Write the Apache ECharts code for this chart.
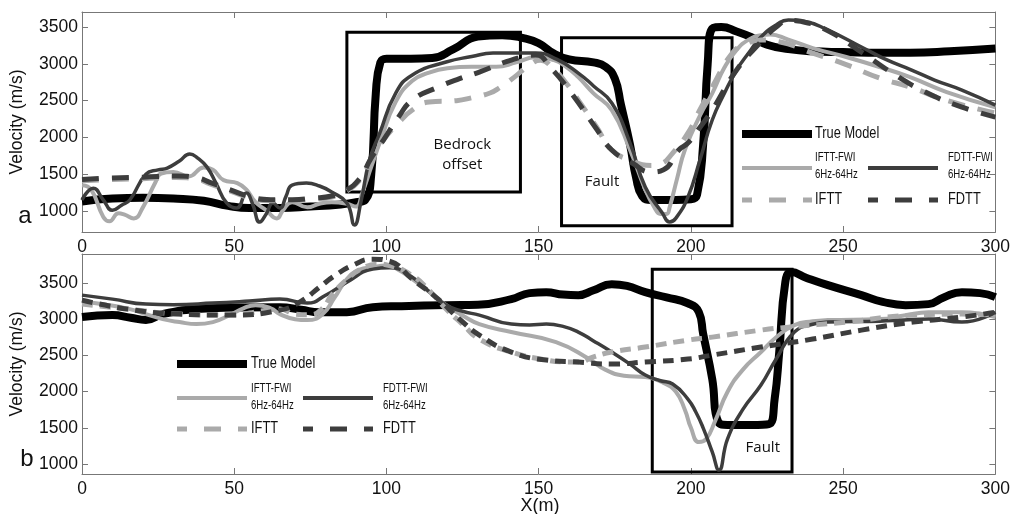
<!DOCTYPE html>
<html><head><meta charset="utf-8">
<script src="https://cdn.jsdelivr.net/npm/echarts@6/dist/echarts.min.js"></script>
<style>html,body{margin:0;padding:0;background:#fff}#c{width:1013px;height:514px}</style>
</head><body><div id="c"></div>
<script>
// ---------- DATA ----------
const xTicks = [0, 50, 100, 150, 200, 250, 300];
const yTicks = [1000, 1500, 2000, 2500, 3000, 3500];
const seriesNames = ['True Model', 'IFTT-FWI 6Hz-64Hz', 'FDTT-FWI 6Hz-64Hz', 'IFTT', 'FDTT'];

// Panel a
const aTrueX = [0,10,20,30,40,48,55,65,75,85,90,93,95,96.5,98,100,108,115,122,130,138,145,150,155,160,168,172,175,177,180,182,184,187,195,200,202,204,205.5,207,210,215,220,225,232,240,250,262,272,285,300];
const aTrueV = [1130,1170,1180,1170,1140,1070,1040,1040,1060,1090,1120,1150,1500,2600,3020,3070,3070,3080,3200,3370,3390,3350,3280,3140,3060,3020,2960,2800,2450,1900,1450,1200,1150,1150,1160,1220,1900,3000,3480,3500,3440,3360,3260,3200,3170,3160,3150,3150,3170,3210];

const aIfwiX = [0,3,7,9,12,14,17,20,24,26,30,35,40,43,46.5,51,54,57,60.5,64,66,69,74,78,82,87,90,92,95,98,103,108.5,114,120,128,136,142.6,149,155,159,163,168,174,180,185,188,190,192,193,195.5,198,203,207,211,215,219,223,226,232,240,251,262,272,284,300];
const aIfwiV = [1350,1290,920,860,970,950,900,1050,1380,1510,1530,1470,1590,1560,1420,1380,1290,1120,1010,900,1010,1120,1050,1100,1120,1100,1060,1240,1600,1950,2480,2770,2880,2940,2960,2960,3020,3090,3050,2960,2820,2600,2370,1830,1290,1050,960,960,1050,1450,1830,2300,2600,2950,3190,3330,3390,3400,3330,3215,3093,2957,2820,2617,2410];

const aFfwiX = [0,3.7,7,10,13,15.7,21,25,28,32,35.4,38,41,44,47.5,50.8,54,56,58.4,60.5,62.7,65,67,69,73.7,78,82,87,89.5,91.5,94.4,97.7,103,108.5,119.6,128,135,149,156,163,168,174,180,185,190.6,193,195,199,203,207,211,215,219,223,228,232,237,245,256,264,272.5,280,289,300];
const aFfwiV = [1150,1310,1150,1010,1080,1150,1500,1560,1584,1680,1775,1720,1600,1380,1110,1040,1245,1100,850,960,1110,1040,1200,1353,1380,1340,1258,1108,810,1100,1690,2050,2600,2850,3025,3100,3147,3147,3060,2875,2700,2468,1924,1326,973,850,900,1190,1700,2237,2600,2916,3150,3365,3530,3596,3580,3460,3230,3060,2916,2780,2644,2440];

const aIttX = [0,10,20,31,38,42,48.5,56,62,69,76,82,86,91,95,99,104,108.5,114,123,128,134,137,142,147,150.6,154.5,159,163,169,174,180,187,190,194,199,203,207,213.6,218,223,229,240,251,262,272,283.6,300];
const aIttV = [1410,1430,1440,1455,1430,1370,1275,1170,1140,1140,1160,1190,1250,1410,1700,1965,2200,2373,2481,2500,2540,2604,2672,2820,2985,3050,2950,2740,2508,2142,1829,1693,1620,1640,1788,2060,2380,2685,3147,3270,3324,3300,3147,2990,2807,2685,2508,2332];

const aFttX = [0,10,20,31,38,42,48.5,56,62,69,76,82,86,91,95,99,104,108.5,117,124,130.5,141,149,154,160.7,169,174,180.7,187,191,196,199,203,207,215,223,228,232,237,245,255,265.6,277,289,300];
const aFttV = [1430,1450,1460,1475,1450,1390,1290,1185,1155,1155,1175,1205,1265,1430,1720,1965,2280,2508,2685,2800,2889,3052,3120,2943,2604,2115,1829,1652,1530,1560,1829,1924,2140,2373,2916,3300,3500,3590,3570,3450,3188,2889,2617,2413,2277];

// Panel b
const bTrueX = [0,10,16,21,26.5,37.6,50,65,72,78,87,95.5,105,119.6,130,141,147,152.5,158,163,168,174,179,185,192,199,202.6,204,207,209,212,220,225.6,227.5,229,231,233,238,245,256,263,270.5,278,283,289,295,300];
const bTrueV = [3030,3056,3020,2990,3070,3139,3160,3166,3130,3097,3097,3166,3180,3194,3200,3277,3360,3373,3340,3332,3400,3484,3460,3373,3300,3220,3097,2800,2173,1580,1540,1540,1552,1900,2546,3511,3650,3570,3470,3332,3240,3194,3208,3300,3373,3360,3304];

const bIfwiX = [0,8,15.7,21,26.5,32,37.6,43,48.5,53,57,62,65,70,74,79,83,87,91,95.5,100,104,108.5,114,119.6,125,130.5,141,155.7,166.6,172,178,185,191,195,198,200,202.6,205,208,212,217,223,228,234,240,245,262,270,278,289,300];
const bIfwiV = [3236,3200,3139,3070,3001,2960,2932,2960,3056,3150,3194,3150,3070,3000,2987,3070,3300,3553,3680,3719,3740,3680,3553,3380,3194,3050,2932,2822,2684,2449,2300,2220,2200,2120,2000,1750,1500,1304,1345,1600,1994,2300,2546,2750,2918,2970,2987,3001,3050,3097,3097,3029];

const bFfwiX = [0,10,21,30,43,55,65,74,80,87,95.5,101,108.5,114,119.6,125,130.5,141,147,152.5,158,163,168,174,180,185,190,194,199,201.6,204,207,209.2,212,217,223,228,234,240,245,262,270,278,289,300];
const bFfwiV = [3332,3277,3208,3200,3222,3250,3277,3222,3330,3511,3691,3710,3580,3380,3194,3110,3056,2932,2920,2932,2900,2822,2700,2546,2380,2228,2150,2104,1897,1718,1500,1166,917,1345,1750,2090,2450,2822,2930,2960,2973,2990,3001,2960,3097];

const bIttX = [0,15,32,48.5,60,65,70,75,79,82,87,92,97,101,108.5,114,119.6,125,130.5,141,152.5,158,163,168,174,185,199,207,223,232,251,273,289,300];
const bIttV = [3208,3139,3070,3056,3120,3139,3070,3060,3150,3332,3550,3700,3760,3740,3600,3400,3139,2930,2725,2546,2435,2410,2408,2480,2546,2615,2711,2752,2849,2890,2960,3056,3070,3056];

const bFttX = [0,15,32,48.5,65,72,78,83,89,95.5,101,108.5,117,124,130.5,141,152.5,163,174,185,199,207,223,240,256,273,289,300];
const bFttV = [3263,3139,3070,3056,3125,3250,3442,3600,3746,3829,3800,3553,3277,3000,2780,2546,2435,2408,2380,2408,2449,2504,2615,2725,2849,2960,3029,3097];

// Annotation boxes and texts (data coordinates)
const aBoxes = [[87,1260,144,3430],[157.5,800,213.5,3355]];
const bBoxes = [[187.3,890,233.2,3690]];
const aNotes = [['Bedrock\noffset',124.9,1761],['Fault',170.8,1394]];
const bNotes = [['Fault',223.6,1221]];

// ---------- CHART ----------
const zip = (xs, vs) => xs.map((x, i) => [x, vs[i]]);
const chart = echarts.init(document.getElementById('c'), null, {renderer: 'canvas'});
const AX = '#777';
const SANS = "'Liberation Sans', Arial, Helvetica, sans-serif";
const LBL = {fontFamily: SANS, fontSize: 17.5, color: '#111'};

function xAx(g, pos, labels) {
  return {type: 'value', gridIndex: g, position: pos, min: 0, max: 300, interval: 50,
    axisLine: {show: true, onZero: false, lineStyle: {color: AX, width: 1}},
    axisTick: {show: true, inside: true, length: 6, lineStyle: {color: AX}},
    axisLabel: Object.assign({show: labels, margin: 6, formatter: v => String(v)}, LBL),
    splitLine: {show: false}};
}
function yAx(g, pos, labels, mn, mx) {
  return {type: 'value', gridIndex: g, position: pos, min: mn, max: mx,
    axisLine: {show: true, onZero: false, lineStyle: {color: AX, width: 1}},
    axisTick: {show: true, inside: true, length: 6, lineStyle: {color: AX}, customValues: yTicks},
    axisLabel: Object.assign({show: labels, margin: 4, customValues: yTicks, formatter: v => String(v)}, LBL),
    splitLine: {show: false},
    name: labels ? 'Velocity (m/s)' : '', nameLocation: 'middle', nameGap: 56,
    nameTextStyle: {fontFamily: SANS, fontSize: 17.5, color: '#111'}};
}
function line(name, data, xi, yi, color, width, dash, z, boxes) {
  const s = {name, type: 'line', xAxisIndex: xi, yAxisIndex: yi, data, showSymbol: false,
    smooth: 0.5, z,
    lineStyle: {color, width, type: dash || 'solid', cap: 'butt', join: 'round'}, animation: false};
  if (boxes) {
    s.markArea = {silent: true, itemStyle: {color: 'rgba(0,0,0,0)', borderColor: '#000', borderWidth: 3},
      label: {show: false},
      data: boxes.map(b => [{coord: [b[0], b[1]]}, {coord: [b[2], b[3]]}])};
  }
  return s;
}
const LIGHT = '#aaaaaa', DARK = '#3d3d3d';
const dashA = [17, 13], dashB = [11, 7];

const option = {
  animation: false,
  backgroundColor: '#fff',
  grid: [
    {left: 82, right: 16, top: 12, height: 220, show: false},
    {left: 82, right: 16, top: 254, height: 220, show: false}
  ],
  xAxis: [xAx(0, 'bottom', true), xAx(0, 'top', false), xAx(1, 'bottom', true), xAx(1, 'top', false)],
  yAxis: [yAx(0, 'left', true, 715, 3705), yAx(0, 'right', false, 715, 3705),
          yAx(1, 'left', true, 862, 3900), yAx(1, 'right', false, 862, 3900)],
  series: [
    line(seriesNames[0], zip(aTrueX, aTrueV), 0, 0, '#000', 8, null, 2, aBoxes),
    line(seriesNames[1], zip(aIfwiX, aIfwiV), 0, 0, LIGHT, 4, null, 3),
    line(seriesNames[2], zip(aFfwiX, aFfwiV), 0, 0, DARK, 3.5, null, 4),
    line(seriesNames[3], zip(aIttX, aIttV), 0, 0, LIGHT, 5, dashA, 5),
    line(seriesNames[4], zip(aFttX, aFttV), 0, 0, DARK, 5, dashA, 6),
    line(seriesNames[0], zip(bTrueX, bTrueV), 2, 2, '#000', 8, null, 2, bBoxes),
    line(seriesNames[1], zip(bIfwiX, bIfwiV), 2, 2, LIGHT, 4, null, 3),
    line(seriesNames[2], zip(bFfwiX, bFfwiV), 2, 2, DARK, 3.5, null, 4),
    line(seriesNames[3], zip(bIttX, bIttV), 2, 2, LIGHT, 5, dashB, 5),
    line(seriesNames[4], zip(bFttX, bFttV), 2, 2, DARK, 5, dashB, 6)
  ]
};
chart.setOption(option);

// ---------- Annotations & legends ----------
const gfx = [];
function note(txt, x, v, g) {
  const p = chart.convertToPixel({gridIndex: g}, [x, v]);
  gfx.push({type: 'text', x: p[0], y: p[1], z: 20,
    style: {text: txt, fontFamily: "'Open Sans', sans-serif", fontSize: 15, fill: '#111',
      align: 'center', verticalAlign: 'middle', lineHeight: 20}});
}
aNotes.forEach(n => note(n[0], n[1], n[2], 0));
bNotes.forEach(n => note(n[0], n[1], n[2], 1));

function legendLine(x1, x2, y, color, w, dash, off) {
  gfx.push({type: 'line', z: 20, shape: {x1, y1: y, x2, y2: y},
    style: {stroke: color, lineWidth: w, lineDash: dash || null, lineDashOffset: off || 0, lineCap: 'butt'}});
}
function legendText(txt, x, y, size, lh) {
  gfx.push({type: 'text', z: 20, x, y, scaleX: 0.8,
    style: {text: txt, fontFamily: SANS, fontSize: size, fill: '#111', align: 'left',
      verticalAlign: 'middle', lineHeight: lh || size * 1.2}});
}
function legend(x0, x1, x2, x3, yTrue, yFwi, yDash, tFwi) {
  legendLine(x0, x0 + 70, yTrue, '#000', 8);
  legendText(seriesNames[0], x1, yTrue, 16);
  legendLine(x0, x0 + 70, yFwi, LIGHT, 4);
  legendText('IFTT-FWI\n6Hz-64Hz', x1, tFwi, 12, 17);
  legendLine(x2, x2 + 70, yFwi, DARK, 4);
  legendText('FDTT-FWI\n6Hz-64Hz', x3, tFwi, 12, 17);
  legendLine(x0, x0 + 70, yDash, LIGHT, 5, [17, 17], 7);
  legendText(seriesNames[3], x1, yDash, 16);
  legendLine(x2, x2 + 70, yDash, DARK, 5, [17, 17], 7);
  legendText(seriesNames[4], x3, yDash, 16);
}
legend(742, 815, 868, 948, 134, 168, 200, 166);
legend(177, 251, 303, 383, 364, 398, 429, 397);

// panel letters and x-axis title
gfx.push({type: 'text', z: 20, x: 25, y: 216, style: {text: 'a', fontFamily: SANS, fontSize: 24, fill: '#111', align: 'center', verticalAlign: 'middle'}});
gfx.push({type: 'text', z: 20, x: 27, y: 459, style: {text: 'b', fontFamily: SANS, fontSize: 24, fill: '#111', align: 'center', verticalAlign: 'middle'}});
gfx.push({type: 'text', z: 20, x: 540, y: 506, style: {text: 'X(m)', fontFamily: SANS, fontSize: 18, fill: '#111', align: 'center', verticalAlign: 'middle'}});
chart.setOption({graphic: gfx});
</script></body></html>
